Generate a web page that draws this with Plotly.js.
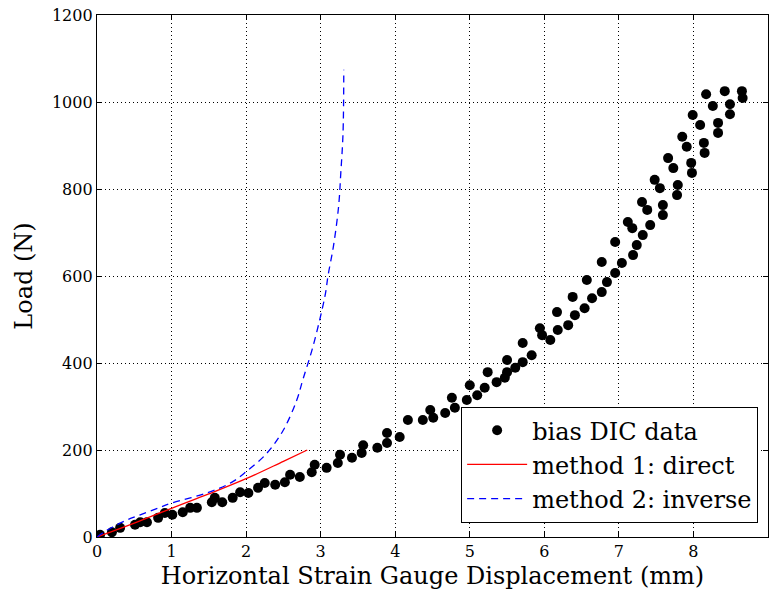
<!DOCTYPE html>
<html>
<head>
<meta charset="utf-8">
<script src="https://cdn.plot.ly/plotly-3.0.1.min.js"></script>
<style>html,body{margin:0;padding:0;background:#fff;}#chart{width:770px;height:594px;}</style>
</head>
<body>
<div id="chart"></div>
<script>
// bias DIC data
const dicX = [0.04,0.20,0.31,0.51,0.58,0.67,0.82,0.91,1.01,1.15,1.25,1.34,1.54,1.58,1.68,1.82,1.92,2.03,
  2.16,2.25,2.39,2.52,2.59,2.72,2.88,2.92,3.08,3.23,3.26,3.42,3.55,3.57,3.76,3.89,3.89,4.06,
  4.17,4.37,4.47,4.51,4.67,4.76,4.80,4.96,5.00,5.10,5.20,5.24,5.36,5.47,5.50,5.50,5.61,5.71,5.71,5.83,
  5.94,5.97,6.08,6.17,6.18,6.32,6.38,6.41,6.54,6.57,6.64,6.77,6.77,6.84,6.95,6.95,7.04,7.12,7.18,7.19,7.24,7.32,
  7.31,7.38,7.42,7.48,7.55,7.59,7.59,7.66,7.73,7.79,7.78,7.85,7.91,7.97,7.98,7.99,8.09,8.14,8.15,
  8.17,8.26,8.33,8.33,8.42,8.49,8.49,8.65,8.66];
const dicY = [5,11,21,28,34,34,44,55,51,57,67,67,80,90,80,90,103,101,
  113,124,120,126,143,138,149,166,159,170,189,182,193,211,205,216,239,230,
  269,269,292,274,285,320,297,315,349,326,343,379,356,366,407,379,389,402,446,418,
  480,464,453,517,476,487,552,510,526,591,549,563,632,586,678,607,630,724,710,648,671,694,
  770,752,717,821,802,763,740,871,848,809,786,920,897,860,837,970,947,906,883,
  1018,991,952,929,1025,995,972,1025,1009];
// method 1: direct
const m1X = [0,0.5,1.0,1.5,2.0,2.5,2.82];
const m1Y = [0,32,66,99,134,174,200];
// method 2: inverse
const m2X = [0,0.1,0.21,0.4,0.58,0.8,1.0,1.47,1.8,2.0,2.28,2.5,2.68,2.76,2.9,3.06,3.10,3.17,3.24,3.27,3.30,3.31];
const m2Y = [0,12,23,39,51,65,78,101,125,150,193,246,315,361,440,556,602,667,759,837,929,1074];
const xTicks = [0,1,2,3,4,5,6,7,8,9];
const yTicks = [0,200,400,600,800,1000,1200];

const font = 'DejaVu Serif, serif';
const traces = [
  {x: dicX, y: dicY, mode: 'markers', type: 'scatter', name: 'bias DIC data',
   marker: {color: '#000', size: 10}},
  {x: m1X, y: m1Y, mode: 'lines', type: 'scatter', name: 'method 1: direct',
   line: {color: '#ff0000', width: 1.3, shape: 'spline'}},
  {x: m2X, y: m2Y, mode: 'lines', type: 'scatter', name: 'method 2: inverse',
   line: {color: '#0000ff', width: 1.3, dash: '7px,5px', shape: 'spline'}}
];
const axisCommon = {
  showline: true, linecolor: '#000', linewidth: 1.2, mirror: 'allticks',
  ticks: 'inside', ticklen: 5, tickcolor: '#000', tickwidth: 1,
  showgrid: true, gridcolor: '#000', gridwidth: 1, griddash: '1px,3px',
  zeroline: false, tickfont: {family: font, size: 16, color: '#000'}
};
const layout = {
  width: 770, height: 594,
  margin: {l: 97, r: 2, t: 15, b: 57},
  paper_bgcolor: '#fff', plot_bgcolor: '#fff',
  font: {family: font, color: '#000'},
  xaxis: Object.assign({}, axisCommon, {
    range: [0, 9], tickvals: xTicks, ticktext: xTicks.map(String),
    title: {text: 'Horizontal Strain Gauge Displacement (mm)', font: {family: font, size: 24}, standoff: 6}
  }),
  yaxis: Object.assign({}, axisCommon, {
    range: [0, 1200], tickvals: yTicks, ticktext: yTicks.map(String),
    title: {text: 'Load (N)', font: {family: font, size: 24}, standoff: 12}
  }),
  showlegend: true,
  legend: {
    x: 0.985, y: 0.027, xanchor: 'right', yanchor: 'bottom',
    bgcolor: '#fff', bordercolor: '#000', borderwidth: 1.2,
    itemwidth: 60,
    font: {family: font, size: 24, color: '#000'}
  }
};
Plotly.newPlot('chart', traces, layout, {displayModeBar: false, staticPlot: true});
</script>
</body>
</html>
